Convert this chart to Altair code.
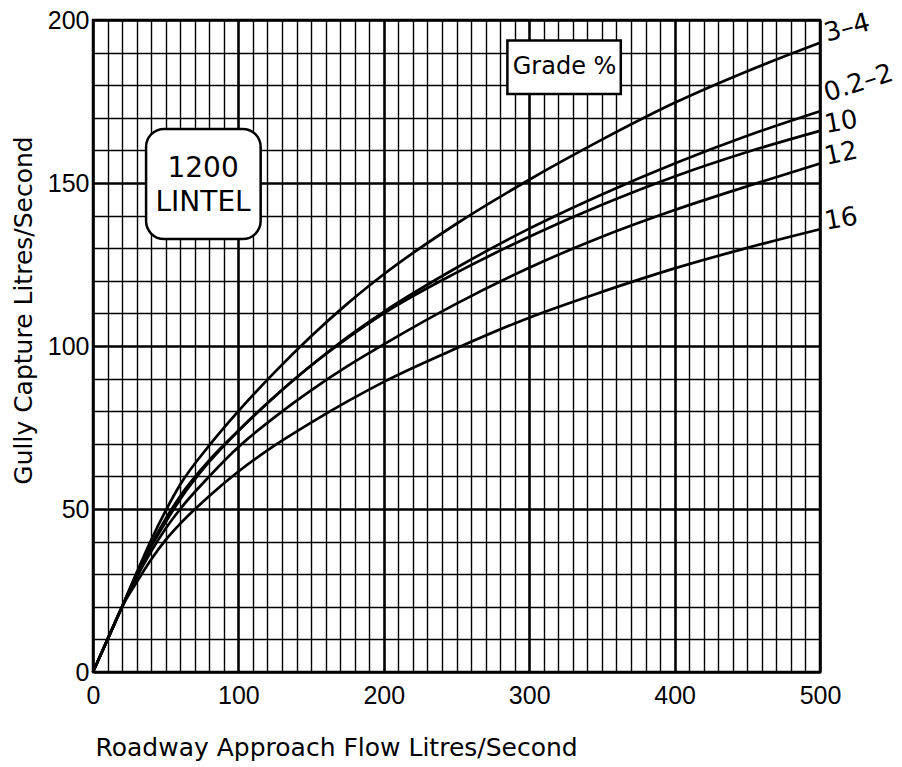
import altair as alt
import pandas as pd

# ---- data ----
flow = [0, 10, 20, 30, 40, 50, 60, 80, 100, 125, 150, 175, 200, 250, 300, 350, 400, 450, 500]
grade_3_4 = [0, 10, 20, 30.5, 40.5, 49.5, 57.5, 69.5, 80, 92, 103, 113, 122, 137.5, 151, 163.3, 174.6, 184.3, 193]
grade_02_2 = [0, 10, 20, 30, 39, 47, 54, 65, 74, 84.5, 94, 102.75, 110.5, 124, 136, 146.5, 156, 164.5, 172]
grade_10 = [0, 10, 20, 30, 38.5, 46, 53, 64.5, 74, 84.5, 94, 102.4, 110, 122.5, 133.5, 143.3, 152, 159.5, 166]
grade_12 = [0, 10, 20, 29, 37, 44, 50, 60, 69, 78.2, 86.4, 93.8, 100.5, 113, 124, 133.5, 141.7, 149, 156]
grade_16 = [0, 10, 20, 27.5, 34.5, 40.5, 45.5, 54, 61.5, 69.5, 76.5, 83, 89, 99.3, 108.7, 116.6, 123.8, 130.1, 135.8]

series_names = ["3–4", "0.2–2", "10", "12", "16"]
series_values = [grade_3_4, grade_02_2, grade_10, grade_12, grade_16]
label_y = [195.3, 176.8, 167.5, 157.6, 137.8]
label_angle = [345, 342, 350, 348, 350]

x_grid = list(range(0, 501, 10))
y_grid = list(range(0, 201, 10))

rows = []
for name, vals in zip(series_names, series_values):
    for xv, yv in zip(flow, vals):
        rows.append({"flow": xv, "capture": yv, "grade": name})
df = pd.DataFrame(rows)

lab_df = pd.DataFrame({"grade": series_names, "ly": label_y, "ang": label_angle,
                       "lx": [500] * len(series_names)})

XS = alt.Scale(domain=[0, 500], nice=False, zero=False)
YS = alt.Scale(domain=[0, 200], nice=False, zero=False)
XT = "Roadway Approach Flow Litres/Second"
YT = "Gully Capture Litres/Second"

x_axis = alt.Axis(
    values=x_grid,
    labelExpr="datum.value % 100 === 0 ? datum.label : ''",
    grid=True, gridColor="black", gridOpacity=1,
    gridWidth={"condition": {"test": "datum.value % 100 === 0", "value": 2.6}, "value": 1.4},
    ticks=False, domain=False,
    labelFont="Liberation Sans", labelFontSize=25, labelColor="black",
    labelPadding=11, labelOverlap=False, labelFlush=False,
    title=XT,
    titleFont="DejaVu Sans", titleFontSize=25, titleFontWeight="normal", titleColor="black",
    titleX=2, titleY=83, titleAlign="left", titleBaseline="alphabetic",
)
y_axis = alt.Axis(
    values=y_grid,
    labelExpr="datum.value % 50 === 0 ? datum.label : ''",
    grid=True, gridColor="black", gridOpacity=1,
    gridWidth={"condition": {"test": "datum.value % 50 === 0", "value": 2.6}, "value": 1.4},
    ticks=False, domain=False,
    labelFont="Liberation Sans", labelFontSize=25, labelColor="black",
    labelPadding=4, labelOverlap=False, labelFlush=False, labelBaseline="middle",
    title=YT,
    titleFont="DejaVu Sans", titleFontSize=25, titleFontWeight="normal", titleColor="black",
    titleX=-62, titleY=290, titleAngle=270, titleAlign="center", titleBaseline="alphabetic",
)


def xd(v):
    return alt.datum(v, scale=XS, axis=x_axis, title=XT)


def yd(v):
    return alt.datum(v, scale=YS, axis=y_axis, title=YT)


lines = alt.Chart(df).mark_line(color="black", strokeWidth=2.7, interpolate="monotone").encode(
    x=alt.X("flow:Q", scale=XS, axis=x_axis, title=XT),
    y=alt.Y("capture:Q", scale=YS, axis=y_axis, title=YT),
    detail="grade:N",
)

curve_labels = alt.Chart(lab_df).mark_text(
    font="DejaVu Sans", fontSize=26, color="black", align="left", baseline="middle", dx=5
).encode(
    x=alt.X("lx:Q", scale=XS, axis=x_axis, title=XT),
    y=alt.Y("ly:Q", scale=YS, axis=y_axis, title=YT),
    text="grade:N",
    angle=alt.Angle("ang:Q", scale=None),
)

grade_box = alt.Chart().mark_rect(fill="white", stroke="black", strokeWidth=2.5).encode(
    x=xd(285), x2=alt.datum(363), y=yd(193.7), y2=alt.datum(177.3),
)
grade_text = alt.Chart().mark_text(
    font="DejaVu Sans", fontSize=24, color="black", align="center", baseline="middle"
).encode(x=xd(324.3), y=yd(185.5), text=alt.value("Grade %"))

lintel_box = alt.Chart().mark_rect(fill="white", stroke="black", strokeWidth=2.5, cornerRadius=18).encode(
    x=xd(36.5), x2=alt.datum(115.3), y=yd(166.6), y2=alt.datum(132.8),
)
lintel_text1 = alt.Chart().mark_text(
    font="DejaVu Sans", fontSize=28, color="black", align="center", baseline="middle"
).encode(x=xd(75.7), y=yd(154.3), text=alt.value("1200"))
lintel_text2 = alt.Chart().mark_text(
    font="DejaVu Sans", fontSize=28, color="black", align="center", baseline="middle"
).encode(x=xd(75.7), y=yd(143.8), text=alt.value("LINTEL"))

chart = alt.layer(
    lines, curve_labels, grade_box, grade_text, lintel_box, lintel_text1, lintel_text2
).properties(
    width=727, height=652,
    autosize="none",
    padding={"left": 93, "top": 20, "right": 82, "bottom": 95},
    background="white",
).configure_view(stroke="black", strokeWidth=2.5)

chart.save("out.html", embed_options={"renderer": "svg", "actions": False})
